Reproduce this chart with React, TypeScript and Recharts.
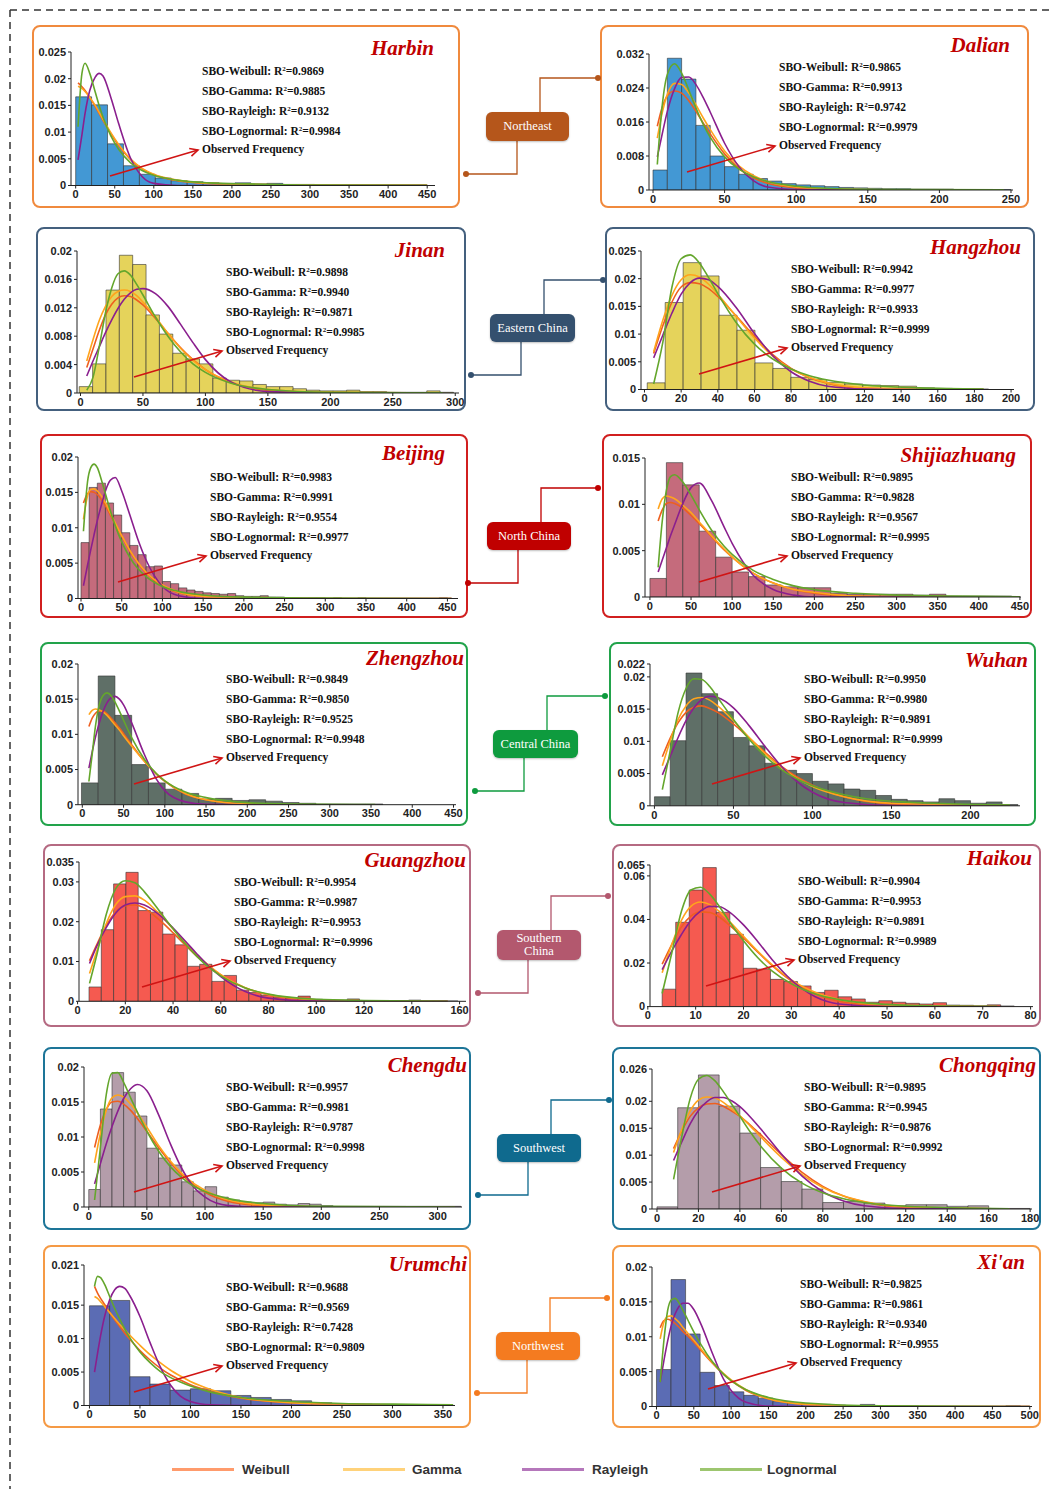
import { Bar, ComposedChart, Line, XAxis, YAxis } from "recharts";

// ---- histogram frequencies (bins of equal width) and fitted curves ----

const harbinFreq = [0.0166, 0.0151, 0.0078, 0.0037, 0.0021, 0.0014, 0.0009, 0.0007, 0.0005, 0.0004, 0.0005, 0.0003, 0.0004, 0.0002, 0.0002, 0.0001, 0.0001, 0.0001, 0.0001, 0.0001, 0.0001, 0.0001];
const harbinFitX = [3, 8, 12, 18, 25, 30, 35, 45, 55, 70, 85, 100, 130, 170, 220, 300, 450];
const harbinWeibull = [0.0192, 0.0185, 0.0178, 0.0165, 0.0148, 0.0135, 0.0122, 0.0097, 0.0075, 0.0049, 0.0031, 0.002, 0.0009, 0.0004, 0.0002, 0.0001, 0.00002];
const harbinGamma = [0.0186, 0.0182, 0.0176, 0.0165, 0.015, 0.0137, 0.0124, 0.0099, 0.0077, 0.005, 0.0032, 0.0021, 0.001, 0.0004, 0.0002, 0.0001, 0.00002];
const harbinRayleigh = [0.0048, 0.0095, 0.0135, 0.0178, 0.0203, 0.021, 0.0205, 0.0165, 0.0116, 0.0052, 0.0017, 0.0004, 0, 0, 0, 0, 0];
const harbinLognormal = [0.011, 0.021, 0.0229, 0.021, 0.0175, 0.015, 0.0128, 0.0093, 0.0068, 0.0043, 0.0028, 0.0019, 0.001, 0.0005, 0.0003, 0.0001, 0.00004];
const harbinR2 = ["0.9869", "0.9885", "0.9132", "0.9984"];

const dalianFreq = [0.0047, 0.031, 0.0261, 0.0152, 0.008, 0.0055, 0.0037, 0.0027, 0.0021, 0.0015, 0.0012, 0.001, 0.0008, 0.0006, 0.0005, 0.0004, 0.0003, 0.0003, 0.0002, 0.0002, 0.0002, 0.0001, 0.0001, 0.0001, 0.0001];
const dalianFitX = [3, 6, 10, 15, 20, 25, 30, 35, 40, 50, 60, 70, 80, 100, 130, 170, 245];
const dalianWeibull = [0.015, 0.019, 0.0222, 0.0233, 0.0228, 0.021, 0.0185, 0.0158, 0.0132, 0.0085, 0.0051, 0.0029, 0.0016, 0.0005, 0.0001, 0.00002, 0];
const dalianGamma = [0.0122, 0.0175, 0.0225, 0.0251, 0.0248, 0.0228, 0.02, 0.017, 0.0142, 0.0092, 0.0057, 0.0034, 0.002, 0.0007, 0.0002, 0.00004, 0];
const dalianRayleigh = [0.0078, 0.0125, 0.0185, 0.0238, 0.0265, 0.0266, 0.0248, 0.0218, 0.0183, 0.011, 0.0055, 0.0022, 0.0007, 0.0001, 0, 0, 0];
const dalianLognormal = [0.006, 0.0185, 0.0272, 0.0297, 0.0275, 0.0235, 0.0193, 0.0155, 0.0124, 0.0078, 0.0049, 0.0031, 0.002, 0.0009, 0.0003, 0.0001, 0.00002];
const dalianR2 = ["0.9865", "0.9913", "0.9742", "0.9979"];

const jinanFreq = [0.0009, 0.0041, 0.0145, 0.0194, 0.0181, 0.011, 0.0083, 0.0056, 0.0048, 0.0041, 0.0021, 0.0018, 0.0017, 0.0012, 0.0009, 0.0009, 0.0006, 0.0004, 0.0003, 0.0003, 0.0004, 0.0002, 0.0002, 0.0001, 0.0001, 0.0001, 0.0003, 0.0001];
const jinanFitX = [5, 10, 15, 20, 25, 30, 35, 40, 45, 50, 60, 70, 80, 90, 100, 120, 150, 200, 290];
const jinanWeibull = [0.0036, 0.0062, 0.0088, 0.011, 0.0125, 0.0134, 0.0137, 0.0136, 0.0131, 0.0124, 0.0105, 0.0084, 0.0064, 0.0047, 0.0033, 0.0015, 0.0004, 0.00005, 0];
const jinanGamma = [0.0045, 0.0075, 0.0102, 0.0122, 0.0136, 0.0143, 0.0145, 0.0143, 0.0137, 0.0128, 0.0107, 0.0084, 0.0063, 0.0046, 0.0033, 0.0016, 0.0005, 0.0001, 0];
const jinanRayleigh = [0.0024, 0.0045, 0.0065, 0.0085, 0.0103, 0.0119, 0.0132, 0.0141, 0.0146, 0.0147, 0.014, 0.0122, 0.0097, 0.0071, 0.0047, 0.0016, 0.0002, 0, 0];
const jinanLognormal = [0.0004, 0.0022, 0.0065, 0.0113, 0.0148, 0.0168, 0.0172, 0.0166, 0.0153, 0.0138, 0.0107, 0.008, 0.0058, 0.0041, 0.0029, 0.0014, 0.0005, 0.0001, 0.00002];
const jinanR2 = ["0.9898", "0.9940", "0.9871", "0.9985"];

const hangzhouFreq = [0.0012, 0.0157, 0.0229, 0.0205, 0.0134, 0.0107, 0.0048, 0.0038, 0.0022, 0.0018, 0.0013, 0.001, 0.0008, 0.0007, 0.0006, 0.0003, 0.0002, 0.0001, 0.0001];
const hangzhouFitX = [5, 10, 15, 20, 25, 30, 35, 40, 50, 60, 70, 80, 90, 100, 120, 150, 185];
const hangzhouWeibull = [0.0065, 0.0115, 0.0158, 0.0185, 0.0193, 0.0191, 0.0182, 0.0168, 0.0133, 0.0096, 0.0063, 0.0038, 0.0021, 0.0011, 0.0002, 0, 0];
const hangzhouGamma = [0.0068, 0.0125, 0.017, 0.0198, 0.0207, 0.0203, 0.019, 0.0172, 0.0132, 0.0093, 0.006, 0.0037, 0.0022, 0.0012, 0.0003, 0.00005, 0];
const hangzhouRayleigh = [0.0057, 0.0098, 0.0138, 0.0172, 0.0193, 0.0201, 0.0198, 0.0186, 0.0148, 0.0101, 0.0061, 0.0032, 0.0015, 0.0006, 0.0001, 0, 0];
const hangzhouLognormal = [0.001, 0.0085, 0.0185, 0.0236, 0.0243, 0.0228, 0.0202, 0.0173, 0.0121, 0.0082, 0.0055, 0.0037, 0.0025, 0.0017, 0.0008, 0.0003, 0.0001];
const hangzhouR2 = ["0.9942", "0.9977", "0.9933", "0.9999"];

const beijingFreq = [0.0079, 0.0157, 0.0163, 0.0135, 0.0118, 0.0093, 0.0075, 0.0062, 0.0045, 0.0046, 0.0024, 0.0021, 0.0015, 0.0012, 0.001, 0.0008, 0.0007, 0.0006, 0.0007, 0.0004, 0.0003, 0.0003, 0.0004, 0.0002, 0.0002, 0.0001, 0.0001, 0.0001, 0.0001, 0.0001, 0, 0.0001, 0, 0, 0.0001, 0, 0, 0, 0, 0, 0, 0, 0, 0, 0.0001];
const beijingFitX = [3, 8, 12, 16, 20, 25, 30, 36, 42, 50, 60, 70, 80, 100, 120, 150, 200, 300, 455];
const beijingWeibull = [0.0135, 0.0148, 0.0151, 0.015, 0.0147, 0.014, 0.0131, 0.0118, 0.0105, 0.0088, 0.0067, 0.005, 0.0036, 0.0018, 0.0008, 0.0003, 0.00005, 0, 0];
const beijingGamma = [0.0112, 0.0145, 0.0154, 0.0155, 0.0152, 0.0145, 0.0135, 0.0121, 0.0107, 0.0089, 0.0068, 0.0051, 0.0037, 0.0019, 0.0009, 0.0003, 0.00005, 0, 0];
const beijingRayleigh = [0.0018, 0.0047, 0.0069, 0.009, 0.011, 0.0132, 0.0152, 0.0167, 0.0171, 0.0152, 0.0118, 0.0083, 0.0054, 0.0017, 0.0004, 0, 0, 0, 0];
const beijingLognormal = [0.0095, 0.0165, 0.0185, 0.019, 0.0185, 0.0168, 0.0148, 0.0124, 0.0103, 0.008, 0.0058, 0.0042, 0.0031, 0.0017, 0.001, 0.0005, 0.0002, 0.00005, 0.00001];
const beijingR2 = ["0.9983", "0.9991", "0.9554", "0.9977"];

const shijiazhuangFreq = [0.002, 0.0145, 0.0121, 0.0071, 0.0043, 0.0027, 0.0022, 0.0013, 0.0011, 0.001, 0.001, 0.0004, 0.0003, 0.0003, 0.0003, 0.0003, 0.0002, 0.0003, 0.0001, 0.0001, 0.0001, 0.0001];
const shijiazhuangFitX = [10, 15, 20, 25, 30, 40, 50, 60, 75, 90, 100, 125, 150, 175, 200, 250, 300, 450];
const shijiazhuangWeibull = [0.0082, 0.0094, 0.0101, 0.0102, 0.0101, 0.0096, 0.0088, 0.0079, 0.0065, 0.0051, 0.0043, 0.0026, 0.0015, 0.0008, 0.0004, 0.0001, 0.00003, 0];
const shijiazhuangGamma = [0.0095, 0.0106, 0.0109, 0.0108, 0.0106, 0.0099, 0.0091, 0.0081, 0.0066, 0.0052, 0.0043, 0.0026, 0.0015, 0.0008, 0.0005, 0.0001, 0.00004, 0];
const shijiazhuangRayleigh = [0.0027, 0.004, 0.0053, 0.0066, 0.0078, 0.0101, 0.0118, 0.0123, 0.0104, 0.0076, 0.0058, 0.0024, 0.0008, 0.0002, 0, 0, 0, 0];
const shijiazhuangLognormal = [0.0032, 0.0082, 0.0115, 0.013, 0.0132, 0.0124, 0.011, 0.0094, 0.0072, 0.0055, 0.0046, 0.0029, 0.0019, 0.0012, 0.0008, 0.0004, 0.0002, 0.00003];
const shijiazhuangR2 = ["0.9895", "0.9828", "0.9567", "0.9995"];

const zhengzhouFreq = [0.0031, 0.0183, 0.0127, 0.0057, 0.0031, 0.0022, 0.0016, 0.0008, 0.0009, 0.0006, 0.0007, 0.0005, 0.0003, 0.0002, 0.0001, 0.0001, 0.0001, 0.0001];
const zhengzhouFitX = [8, 12, 16, 20, 25, 30, 35, 40, 45, 50, 60, 75, 90, 100, 125, 150, 200, 250, 355];
const zhengzhouWeibull = [0.0111, 0.0123, 0.013, 0.0133, 0.0133, 0.0129, 0.0123, 0.0116, 0.0109, 0.0101, 0.0085, 0.0062, 0.0043, 0.0033, 0.0015, 0.0007, 0.0001, 0, 0];
const zhengzhouGamma = [0.0128, 0.0134, 0.0136, 0.0135, 0.0132, 0.0127, 0.012, 0.0113, 0.0106, 0.0098, 0.0083, 0.0062, 0.0044, 0.0034, 0.0016, 0.0007, 0.0001, 0, 0];
const zhengzhouRayleigh = [0.0052, 0.0075, 0.0096, 0.0114, 0.0132, 0.0145, 0.0152, 0.0154, 0.015, 0.0142, 0.0116, 0.0072, 0.0036, 0.002, 0.0004, 0.00005, 0, 0, 0];
const zhengzhouLognormal = [0.0033, 0.0072, 0.0112, 0.0139, 0.0155, 0.0159, 0.0155, 0.0145, 0.0133, 0.012, 0.0095, 0.0065, 0.0044, 0.0034, 0.0018, 0.001, 0.0003, 0.0001, 0.00002];
const zhengzhouR2 = ["0.9849", "0.9850", "0.9525", "0.9948"];

const wuhanFreq = [0.0014, 0.0101, 0.0206, 0.0174, 0.0146, 0.0106, 0.0093, 0.0066, 0.0055, 0.005, 0.0038, 0.0034, 0.0026, 0.0024, 0.0016, 0.001, 0.0008, 0.0006, 0.0011, 0.0008, 0.0004, 0.0006, 0.0002];
const wuhanFitX = [5, 10, 15, 20, 25, 30, 35, 40, 50, 60, 70, 80, 90, 100, 120, 150, 225];
const wuhanWeibull = [0.0076, 0.0105, 0.0129, 0.0145, 0.0153, 0.0155, 0.0151, 0.0145, 0.0127, 0.0105, 0.0083, 0.0062, 0.0045, 0.0032, 0.0014, 0.0003, 0];
const wuhanGamma = [0.0062, 0.0101, 0.0134, 0.0155, 0.0166, 0.0168, 0.0164, 0.0155, 0.0132, 0.0106, 0.0081, 0.006, 0.0043, 0.003, 0.0014, 0.0004, 0];
const wuhanRayleigh = [0.0048, 0.0077, 0.0106, 0.0132, 0.0152, 0.0165, 0.017, 0.0168, 0.0152, 0.0124, 0.0092, 0.0062, 0.0038, 0.0021, 0.0005, 0.00003, 0];
const wuhanLognormal = [0.0025, 0.0085, 0.0145, 0.0182, 0.0197, 0.0196, 0.0185, 0.0168, 0.0134, 0.0103, 0.0077, 0.0057, 0.0042, 0.0031, 0.0017, 0.0007, 0.0001];
const wuhanR2 = ["0.9950", "0.9980", "0.9891", "0.9999"];

const guangzhouFreq = [0.0036, 0.018, 0.0295, 0.0324, 0.0228, 0.0224, 0.0169, 0.0142, 0.0088, 0.0093, 0.005, 0.0065, 0.0028, 0.0022, 0.0015, 0.001, 0.0008, 0.0013, 0.0005, 0.0004, 0.0003, 0.0006, 0.0002, 0.0002, 0.0001, 0.0001, 0.0003, 0.0001, 0.0001, 0.0001];
const guangzhouFitX = [5, 8, 12, 16, 20, 24, 28, 32, 36, 40, 45, 50, 55, 60, 70, 80, 100, 120, 155];
const guangzhouWeibull = [0.0102, 0.0142, 0.019, 0.0225, 0.024, 0.0242, 0.0234, 0.0216, 0.0195, 0.0172, 0.0142, 0.0113, 0.0088, 0.0066, 0.0034, 0.0016, 0.0003, 0, 0];
const guangzhouGamma = [0.007, 0.0125, 0.0195, 0.0243, 0.0263, 0.0265, 0.0254, 0.0233, 0.0208, 0.0182, 0.0148, 0.0117, 0.009, 0.0067, 0.0035, 0.0017, 0.0004, 0.0001, 0];
const guangzhouRayleigh = [0.0095, 0.0138, 0.0185, 0.0222, 0.0242, 0.0247, 0.0242, 0.0228, 0.0208, 0.0184, 0.0152, 0.0119, 0.0088, 0.0062, 0.0025, 0.0008, 0.00004, 0, 0];
const guangzhouLognormal = [0.0045, 0.0115, 0.0218, 0.0283, 0.0303, 0.0298, 0.0275, 0.0245, 0.0213, 0.0182, 0.0145, 0.0113, 0.0085, 0.0064, 0.0034, 0.0018, 0.0005, 0.0002, 0.00003];
const guangzhouR2 = ["0.9954", "0.9987", "0.9953", "0.9996"];

const haikouFreq = [0.008, 0.0387, 0.0535, 0.0638, 0.0433, 0.0332, 0.0176, 0.0172, 0.0125, 0.0115, 0.0095, 0.0065, 0.0075, 0.0045, 0.0035, 0.002, 0.0027, 0.002, 0.0015, 0.0012, 0.0018, 0.0007, 0.0006, 0.0003, 0.0008, 0.0003];
const haikouFitX = [3, 5, 7, 9, 11, 13, 15, 17, 20, 23, 26, 30, 35, 40, 50, 60, 73];
const haikouWeibull = [0.0195, 0.0285, 0.0365, 0.0415, 0.0435, 0.0432, 0.041, 0.0375, 0.0315, 0.025, 0.0188, 0.0118, 0.0058, 0.0025, 0.0003, 0, 0];
const haikouGamma = [0.0155, 0.0285, 0.0395, 0.046, 0.048, 0.0468, 0.0436, 0.0393, 0.0323, 0.0254, 0.0192, 0.0123, 0.0066, 0.0033, 0.0008, 0.0002, 0];
const haikouRayleigh = [0.017, 0.0255, 0.033, 0.0395, 0.0438, 0.046, 0.0458, 0.0435, 0.0375, 0.0298, 0.0215, 0.0122, 0.0045, 0.0012, 0, 0, 0];
const haikouLognormal = [0.006, 0.0245, 0.0435, 0.0535, 0.0548, 0.0515, 0.0458, 0.0392, 0.0302, 0.0224, 0.0163, 0.0105, 0.0058, 0.0032, 0.001, 0.0003, 0.0001];
const haikouR2 = ["0.9904", "0.9953", "0.9891", "0.9989"];

const chengduFreq = [0.0025, 0.014, 0.0192, 0.0164, 0.013, 0.0084, 0.007, 0.006, 0.0036, 0.0023, 0.0029, 0.0014, 0.001, 0.0007, 0.0006, 0.0007, 0.0004, 0.0003, 0.0005, 0.0004, 0.0002, 0.0001, 0.0001, 0.0001, 0.0001, 0.0001, 0.0001, 0.0001, 0.0001, 0.0001, 0.0001, 0.0001];
const chengduFitX = [5, 10, 15, 20, 25, 30, 36, 42, 50, 60, 70, 80, 90, 100, 120, 150, 200, 315];
const chengduWeibull = [0.0085, 0.0117, 0.0139, 0.015, 0.0151, 0.0147, 0.0138, 0.0126, 0.0108, 0.0085, 0.0064, 0.0046, 0.0032, 0.0021, 0.0008, 0.0002, 0, 0];
const chengduGamma = [0.0063, 0.0105, 0.0138, 0.0156, 0.016, 0.0157, 0.0147, 0.0134, 0.0114, 0.0088, 0.0066, 0.0048, 0.0034, 0.0024, 0.001, 0.0003, 0, 0];
const chengduRayleigh = [0.0033, 0.0062, 0.009, 0.0115, 0.0137, 0.0155, 0.0169, 0.0175, 0.0166, 0.0132, 0.0091, 0.0055, 0.0029, 0.0014, 0.0002, 0, 0, 0];
const chengduLognormal = [0.001, 0.0085, 0.016, 0.0191, 0.0192, 0.0178, 0.0156, 0.0135, 0.0108, 0.008, 0.0058, 0.0042, 0.003, 0.0022, 0.0012, 0.0005, 0.0001, 0];
const chengduR2 = ["0.9957", "0.9981", "0.9787", "0.9998"];

const chongqingFreq = [0.0004, 0.0188, 0.0249, 0.0191, 0.0141, 0.0077, 0.0051, 0.0037, 0.0012, 0.0014, 0.0011, 0.0006, 0.0008, 0.0008, 0.0005, 0.0006, 0.0001, 0.0001];
const chongqingFitX = [8, 12, 16, 20, 24, 28, 32, 36, 40, 45, 50, 60, 70, 80, 90, 100, 120, 170];
const chongqingWeibull = [0.0112, 0.0145, 0.0172, 0.0188, 0.0195, 0.0196, 0.0191, 0.0182, 0.0172, 0.0156, 0.0138, 0.0101, 0.0068, 0.0042, 0.0024, 0.0013, 0.0003, 0];
const chongqingGamma = [0.0105, 0.0148, 0.0182, 0.0202, 0.0208, 0.0206, 0.0198, 0.0186, 0.0173, 0.0154, 0.0134, 0.0096, 0.0064, 0.004, 0.0024, 0.0014, 0.0004, 0];
const chongqingRayleigh = [0.009, 0.0125, 0.0158, 0.0183, 0.0199, 0.0207, 0.0207, 0.0201, 0.019, 0.0171, 0.0149, 0.0102, 0.0061, 0.0032, 0.0015, 0.0006, 0.0001, 0];
const chongqingLognormal = [0.0055, 0.0135, 0.0205, 0.0241, 0.0248, 0.0238, 0.0218, 0.0195, 0.0172, 0.0143, 0.0117, 0.0076, 0.0048, 0.003, 0.0019, 0.0012, 0.0005, 0.00005];
const chongqingR2 = ["0.9895", "0.9945", "0.9876", "0.9992"];

const urumchiFreq = [0.0149, 0.0157, 0.0043, 0.0032, 0.0023, 0.0025, 0.0022, 0.0015, 0.0012, 0.0009, 0.0007, 0.0004, 0.0002, 0.0002, 0.0001, 0.0001, 0.0001, 0.0001];
const urumchiFitX = [5, 8, 11, 15, 20, 25, 30, 35, 40, 50, 60, 70, 80, 90, 100, 120, 150, 200, 250, 300, 360];
const urumchiWeibull = [0.0178, 0.0168, 0.016, 0.0151, 0.0139, 0.0128, 0.0118, 0.0108, 0.0099, 0.0082, 0.0068, 0.0056, 0.0046, 0.0038, 0.0031, 0.0021, 0.0011, 0.0004, 0.0002, 0.0001, 0];
const urumchiGamma = [0.0163, 0.016, 0.0155, 0.0148, 0.0139, 0.013, 0.0121, 0.0113, 0.0105, 0.009, 0.0076, 0.0064, 0.0053, 0.0044, 0.0036, 0.0024, 0.0012, 0.0004, 0.0001, 0, 0];
const urumchiRayleigh = [0.005, 0.0078, 0.0104, 0.0133, 0.0158, 0.0173, 0.0178, 0.0175, 0.0164, 0.0133, 0.0094, 0.0058, 0.0031, 0.0014, 0.0006, 0.0001, 0, 0, 0, 0, 0];
const urumchiLognormal = [0.0178, 0.0193, 0.0191, 0.0181, 0.0163, 0.0145, 0.0129, 0.0114, 0.0101, 0.008, 0.0064, 0.0051, 0.0042, 0.0035, 0.0029, 0.002, 0.0012, 0.0006, 0.0003, 0.0002, 0.0001];
const urumchiR2 = ["0.9688", "0.9569", "0.7428", "0.9809"];

const xianFreq = [0.0053, 0.0182, 0.0104, 0.0049, 0.003, 0.0021, 0.0016, 0.0012, 0.0007, 0.0005, 0.0004, 0.0003, 0.0002, 0.0001, 0.0003, 0.0001, 0.0001, 0.0001, 0, 0, 0, 0, 0, 0, 0.0001];
const xianFitX = [5, 10, 15, 20, 25, 30, 35, 42, 50, 60, 75, 90, 100, 120, 150, 200, 300, 500];
const xianWeibull = [0.0113, 0.0123, 0.0125, 0.0123, 0.0119, 0.0114, 0.0108, 0.0101, 0.0092, 0.008, 0.0062, 0.0046, 0.0037, 0.0023, 0.0011, 0.0003, 0, 0];
const xianGamma = [0.0097, 0.0121, 0.0129, 0.013, 0.0126, 0.0121, 0.0114, 0.0105, 0.0095, 0.0082, 0.0063, 0.0047, 0.0038, 0.0024, 0.0011, 0.0003, 0, 0];
const xianRayleigh = [0.0035, 0.0066, 0.0094, 0.0117, 0.0133, 0.0143, 0.0148, 0.0148, 0.0139, 0.0117, 0.0076, 0.0039, 0.0023, 0.0006, 0.00005, 0, 0, 0];
const xianLognormal = [0.0035, 0.0095, 0.0138, 0.0153, 0.0155, 0.0149, 0.0139, 0.0124, 0.0107, 0.0088, 0.0064, 0.0046, 0.0037, 0.0024, 0.0013, 0.0005, 0.0001, 0];
const xianR2 = ["0.9825", "0.9861", "0.9340", "0.9955"];

const fitNames = ["Weibull", "Gamma", "Rayleigh", "Lognormal"];
const fitColors = ["#EE5F1F", "#FFA41C", "#8A1F8E", "#64A62C"];
const legendColors = ["#FF9B6C", "#FFD27A", "#B577BB", "#9DC66F"];

const SERIF = "'Liberation Serif', 'Times New Roman', serif";
const NARROW = "'Liberation Sans Narrow', 'Arial Narrow', 'Liberation Sans', sans-serif";

interface PanelSpec {
  city: string;
  box: [number, number, number, number];
  border: string;
  barFill: string;
  plot: [number, number, number, number];
  xDomain: [number, number];
  xTicks: number[];
  yTicks: number[];
  binStart: number;
  binWidth: number;
  freq: number[];
  fitX: number[];
  fits: number[][];
  r2: string[];
  text: [number, number];
  title: [number, number];
}

const ROW = [
  { border: "#F08A3E", fill: "#4398D4" },
  { border: "#44607E", fill: "#E5D35B" },
  { border: "#D11F1F", fill: "#C56B7C" },
  { border: "#22A34B", fill: "#5F6F67" },
  { border: "#B56A82", fill: "#F55A50" },
  { border: "#1D7598", fill: "#B49DAA" },
  { border: "#F59A45", fill: "#5B6CB4" },
];

const panels: PanelSpec[] = [
  {
    city: "Harbin", box: [32, 25, 428, 183], border: ROW[0].border, barFill: ROW[0].fill,
    plot: [71, 435, 52, 185.5], xDomain: [-6, 460],
    xTicks: [0, 50, 100, 150, 200, 250, 300, 350, 400, 450], yTicks: [0, 0.005, 0.01, 0.015, 0.02, 0.025],
    binStart: 0, binWidth: 20.4, freq: harbinFreq, fitX: harbinFitX,
    fits: [harbinWeibull, harbinGamma, harbinRayleigh, harbinLognormal], r2: harbinR2,
    text: [202, 69], title: [434, 48],
  },
  {
    city: "Dalian", box: [600, 25, 429, 183], border: ROW[0].border, barFill: ROW[0].fill,
    plot: [649, 1013, 54, 190], xDomain: [-2.8, 251.4],
    xTicks: [0, 50, 100, 150, 200, 250], yTicks: [0, 0.008, 0.016, 0.024, 0.032],
    binStart: 0, binWidth: 10, freq: dalianFreq, fitX: dalianFitX,
    fits: [dalianWeibull, dalianGamma, dalianRayleigh, dalianLognormal], r2: dalianR2,
    text: [779, 65], title: [1010, 45],
  },
  {
    city: "Jinan", box: [36, 227, 430, 184], border: ROW[1].border, barFill: ROW[1].fill,
    plot: [77, 459, 250.5, 392.5], xDomain: [-2.8, 303],
    xTicks: [0, 50, 100, 150, 200, 250, 300], yTicks: [0, 0.004, 0.008, 0.012, 0.016, 0.02],
    binStart: -1, binWidth: 10.7, freq: jinanFreq, fitX: jinanFitX,
    fits: [jinanWeibull, jinanGamma, jinanRayleigh, jinanLognormal], r2: jinanR2,
    text: [226, 270], title: [445, 250],
  },
  {
    city: "Hangzhou", box: [605, 227, 430, 184], border: ROW[1].border, barFill: ROW[1].fill,
    plot: [641, 1014, 250.5, 389], xDomain: [-1.9, 201.6],
    xTicks: [0, 20, 40, 60, 80, 100, 120, 140, 160, 180, 200], yTicks: [0, 0.005, 0.01, 0.015, 0.02, 0.025],
    binStart: 1.5, binWidth: 9.8, freq: hangzhouFreq, fitX: hangzhouFitX,
    fits: [hangzhouWeibull, hangzhouGamma, hangzhouRayleigh, hangzhouLognormal], r2: hangzhouR2,
    text: [791, 267], title: [1021, 247],
  },
  {
    city: "Beijing", box: [40, 434, 428, 184], border: ROW[2].border, barFill: ROW[2].fill,
    plot: [78, 458, 456.5, 598], xDomain: [-3.7, 463],
    xTicks: [0, 50, 100, 150, 200, 250, 300, 350, 400, 450], yTicks: [0, 0.005, 0.01, 0.015, 0.02],
    binStart: 0, binWidth: 10, freq: beijingFreq, fitX: beijingFitX,
    fits: [beijingWeibull, beijingGamma, beijingRayleigh, beijingLognormal], r2: beijingR2,
    text: [210, 475], title: [445, 453],
  },
  {
    city: "Shijiazhuang", box: [602, 434, 430, 184], border: ROW[2].border, barFill: ROW[2].fill,
    plot: [645, 1021, 458, 597], xDomain: [-6, 451.3],
    xTicks: [0, 50, 100, 150, 200, 250, 300, 350, 400, 450], yTicks: [0, 0.005, 0.01, 0.015],
    binStart: 0, binWidth: 20, freq: shijiazhuangFreq, fitX: shijiazhuangFitX,
    fits: [shijiazhuangWeibull, shijiazhuangGamma, shijiazhuangRayleigh, shijiazhuangLognormal], r2: shijiazhuangR2,
    text: [791, 475], title: [1016, 455],
  },
  {
    city: "Zhengzhou", box: [40, 642, 428, 184], border: ROW[3].border, barFill: ROW[3].fill,
    plot: [78, 456, 664.3, 805], xDomain: [-5.2, 453],
    xTicks: [0, 50, 100, 150, 200, 250, 300, 350, 400, 450], yTicks: [0, 0.005, 0.01, 0.015, 0.02],
    binStart: -1, binWidth: 20.3, freq: zhengzhouFreq, fitX: zhengzhouFitX,
    fits: [zhengzhouWeibull, zhengzhouGamma, zhengzhouRayleigh, zhengzhouLognormal], r2: zhengzhouR2,
    text: [226, 677], title: [464, 658],
  },
  {
    city: "Wuhan", box: [609, 642, 427, 184], border: ROW[3].border, barFill: ROW[3].fill,
    plot: [650, 1020, 663.7, 805.5], xDomain: [-2.8, 231.3],
    xTicks: [0, 50, 100, 150, 200], yTicks: [0, 0.005, 0.01, 0.015, 0.02, 0.022],
    binStart: 0, binWidth: 10, freq: wuhanFreq, fitX: wuhanFitX,
    fits: [wuhanWeibull, wuhanGamma, wuhanRayleigh, wuhanLognormal], r2: wuhanR2,
    text: [804, 677], title: [1028, 660],
  },
  {
    city: "Guangzhou", box: [43, 844, 428, 183], border: ROW[4].border, barFill: ROW[4].fill,
    plot: [79, 466, 862, 1001.3], xDomain: [0.6, 162.7],
    xTicks: [0, 20, 40, 60, 80, 100, 120, 140, 160], yTicks: [0, 0.01, 0.02, 0.03, 0.035],
    binStart: 4.8, binWidth: 5.15, freq: guangzhouFreq, fitX: guangzhouFitX,
    fits: [guangzhouWeibull, guangzhouGamma, guangzhouRayleigh, guangzhouLognormal], r2: guangzhouR2,
    text: [234, 880], title: [466, 860],
  },
  {
    city: "Haikou", box: [612, 844, 429, 183], border: ROW[4].border, barFill: ROW[4].fill,
    plot: [650, 1033, 864.7, 1006.3], xDomain: [0.46, 80.5],
    xTicks: [0, 10, 20, 30, 40, 50, 60, 70, 80], yTicks: [0, 0.02, 0.04, 0.06, 0.065],
    binStart: 3, binWidth: 2.83, freq: haikouFreq, fitX: haikouFitX,
    fits: [haikouWeibull, haikouGamma, haikouRayleigh, haikouLognormal], r2: haikouR2,
    text: [798, 879], title: [1032, 858],
  },
  {
    city: "Chengdu", box: [43, 1047, 428, 183], border: ROW[5].border, barFill: ROW[5].fill,
    plot: [84, 462, 1067, 1207], xDomain: [-4.1, 321],
    xTicks: [0, 50, 100, 150, 200, 250, 300], yTicks: [0, 0.005, 0.01, 0.015, 0.02],
    binStart: 0, binWidth: 10, freq: chengduFreq, fitX: chengduFitX,
    fits: [chengduWeibull, chengduGamma, chengduRayleigh, chengduLognormal], r2: chengduR2,
    text: [226, 1085], title: [467, 1065],
  },
  {
    city: "Chongqing", box: [612, 1047, 429, 183], border: ROW[5].border, barFill: ROW[5].fill,
    plot: [652, 1032, 1068.7, 1208.7], xDomain: [-2.4, 180.9],
    xTicks: [0, 20, 40, 60, 80, 100, 120, 140, 160, 180], yTicks: [0, 0.005, 0.01, 0.015, 0.02, 0.026],
    binStart: 0, binWidth: 10, freq: chongqingFreq, fitX: chongqingFitX,
    fits: [chongqingWeibull, chongqingGamma, chongqingRayleigh, chongqingLognormal], r2: chongqingR2,
    text: [804, 1085], title: [1036, 1065],
  },
  {
    city: "Urumchi", box: [43, 1245, 428, 183], border: ROW[6].border, barFill: ROW[6].fill,
    plot: [84, 455, 1265, 1405.5], xDomain: [-5.4, 361.9],
    xTicks: [0, 50, 100, 150, 200, 250, 300, 350], yTicks: [0, 0.005, 0.01, 0.015, 0.021],
    binStart: 0, binWidth: 20, freq: urumchiFreq, fitX: urumchiFitX,
    fits: [urumchiWeibull, urumchiGamma, urumchiRayleigh, urumchiLognormal], r2: urumchiR2,
    text: [226, 1285], title: [467, 1264],
  },
  {
    city: "Xi'an", box: [612, 1245, 429, 183], border: ROW[6].border, barFill: ROW[6].fill,
    plot: [652, 1032, 1266.5, 1406], xDomain: [-6, 503],
    xTicks: [0, 50, 100, 150, 200, 250, 300, 350, 400, 450, 500], yTicks: [0, 0.005, 0.01, 0.015, 0.02],
    binStart: 0, binWidth: 19.5, freq: xianFreq, fitX: xianFitX,
    fits: [xianWeibull, xianGamma, xianRayleigh, xianLognormal], r2: xianR2,
    text: [800, 1282], title: [1025, 1262],
  },
];

// region tags between the two columns: box [left, top, width, height], dot x on each side
const regions = [
  { lines: ["Northeast"], box: [486, 112, 83, 29], color: "#B5561B", dotL: 466, dotR: 598 },
  { lines: ["Eastern China"], box: [490, 314, 85, 28], color: "#34506E", dotL: 471, dotR: 603 },
  { lines: ["North China"], box: [487, 522, 84, 28], color: "#C00000", dotL: 468, dotR: 598 },
  { lines: ["Central China"], box: [493, 730, 85, 28], color: "#0E9B3E", dotL: 475, dotR: 605 },
  { lines: ["Southern", "China"], box: [497, 930, 84, 30], color: "#B3586E", dotL: 478, dotR: 608 },
  { lines: ["Southwest"], box: [497, 1134, 84, 28], color: "#0F6A8E", dotL: 478, dotR: 609 },
  { lines: ["Northwest"], box: [496, 1332, 84, 28], color: "#F47B20", dotL: 477, dotR: 607 },
];

const legendItems = [
  { x: 172, textX: 242 },
  { x: 343, textX: 412 },
  { x: 522, textX: 592 },
  { x: 700, textX: 767 },
];

const Y_W = 40;
const M_T = 8;
const M_R = 16;
const X_H = 20;

function HistChart({ p }: { p: PanelSpec }) {
  const [pl, pr, pt, pb] = p.plot;
  const plotW = pr - pl;
  const plotH = pb - pt;
  const yMax = p.yTicks[p.yTicks.length - 1];
  const bins = p.freq.map((f, i) => ({ x: p.binStart + (i + 0.5) * p.binWidth, freq: f }));
  const barSize = ((p.binWidth * plotW) / (p.xDomain[1] - p.xDomain[0])) * 0.998;
  const tickStyle = { fontSize: 11, fill: "#222", fontFamily: NARROW, fontWeight: 700 };

  return (
    <div style={{ position: "absolute", left: pl - Y_W, top: pt - M_T }}>
      <ComposedChart
        width={plotW + Y_W + M_R}
        height={plotH + M_T + X_H}
        data={bins}
        margin={{ top: M_T, right: M_R, bottom: 0, left: 0 }}
        barCategoryGap={0}
        barGap={0}
      >
        <XAxis
          xAxisId="bins"
          dataKey="x"
          type="number"
          domain={p.xDomain}
          ticks={p.xTicks}
          interval={0}
          allowDataOverflow
          height={X_H}
          tick={tickStyle}
          tickSize={3}
          axisLine={{ stroke: "#222" }}
          tickLine={{ stroke: "#222" }}
        />
        <XAxis xAxisId="fit" dataKey="x" type="number" domain={p.xDomain} allowDataOverflow hide />
        <YAxis
          type="number"
          domain={[0, yMax]}
          ticks={p.yTicks}
          interval={0}
          allowDataOverflow
          width={Y_W}
          tick={tickStyle}
          tickSize={3}
          axisLine={{ stroke: "#222" }}
          tickLine={{ stroke: "#222" }}
        />
        <Bar
          xAxisId="bins"
          dataKey="freq"
          fill={p.barFill}
          stroke="#333"
          strokeWidth={0.6}
          barSize={barSize}
          isAnimationActive={false}
        />
        {p.fits.map((ys, k) => (
          <Line
            key={fitNames[k]}
            xAxisId="fit"
            data={p.fitX.map((x, i) => ({ x, y: ys[i] }))}
            dataKey="y"
            type="monotone"
            stroke={fitColors[k]}
            strokeWidth={1.6}
            dot={false}
            isAnimationActive={false}
          />
        ))}
      </ComposedChart>
    </div>
  );
}

function PanelFrame({ p }: { p: PanelSpec }) {
  const [left, top, w, h] = p.box;
  return (
    <>
      <div
        style={{
          position: "absolute",
          left,
          top,
          width: w,
          height: h,
          border: `2px solid ${p.border}`,
          borderRadius: 8,
          boxSizing: "border-box",
          background: "#fff",
        }}
      />
      <div
        style={{
          position: "absolute",
          left: p.title[0] - 200,
          width: 200,
          top: p.title[1] - 13,
          textAlign: "right",
          fontFamily: SERIF,
          fontStyle: "italic",
          fontWeight: 700,
          fontSize: 21,
          lineHeight: "26px",
          color: "#C00000",
        }}
      >
        {p.city}
      </div>
    </>
  );
}

function Notes({ p }: { p: PanelSpec }) {
  const [tx, ty] = p.text;
  const rows = fitNames.map((n, i) => (
    <span key={n}>
      SBO-{n}: R<sup style={{ fontSize: 7, verticalAlign: "4px" }}>2</sup>={p.r2[i]}
    </span>
  ));
  rows.push(<span key="obs">Observed Frequency</span>);
  return (
    <>
      {rows.map((r, i) => (
        <div
          key={i}
          style={{
            position: "absolute",
            left: tx,
            top: ty + i * 20 - 8,
            fontFamily: SERIF,
            fontWeight: 700,
            fontSize: 11.5,
            lineHeight: "16px",
            color: "#111",
            whiteSpace: "nowrap",
          }}
        >
          {r}
        </div>
      ))}
    </>
  );
}

export default function App() {
  return (
    <div
      style={{
        position: "absolute",
        left: 0,
        top: 0,
        width: 1049,
        height: 1489,
        background: "#fff",
        overflow: "hidden",
      }}
    >
      <svg width={1049} height={1489} style={{ position: "absolute", left: 0, top: 0 }}>
        <line x1={10} y1={10} x2={10} y2={1489} stroke="#333" strokeWidth={1.5} strokeDasharray="7 5" />
        <line x1={10} y1={10} x2={1049} y2={10} stroke="#333" strokeWidth={1.5} strokeDasharray="7 5" />
      </svg>

      {panels.map((p) => (
        <PanelFrame key={p.city} p={p} />
      ))}
      {panels.map((p) => (
        <HistChart key={p.city} p={p} />
      ))}
      {panels.map((p) => (
        <Notes key={p.city} p={p} />
      ))}

      <svg width={1049} height={1489} style={{ position: "absolute", left: 0, top: 0, pointerEvents: "none" }}>
        <defs>
          <marker id="redHead" markerUnits="userSpaceOnUse" markerWidth={12} markerHeight={12} refX={9} refY={5} orient="auto">
            <path d="M1,1 L9,5 L1,9" fill="none" stroke="#D01414" strokeWidth={1.6} />
          </marker>
        </defs>
        {panels.map((p) => (
          <line
            key={p.city}
            x1={p.text[0] - 92}
            y1={p.text[1] + 107}
            x2={p.text[0] - 4}
            y2={p.text[1] + 81}
            stroke="#D01414"
            strokeWidth={1.6}
            markerEnd="url(#redHead)"
          />
        ))}
        {regions.map((r) => {
          const [bx, by, bw, bh] = r.box;
          const xB = bx + 31;
          const xT = bx + 54;
          const yL = by + bh + 33;
          const yR = by - 34;
          return (
            <g key={r.lines.join(" ")} stroke={r.color} strokeWidth={1.3} fill="none">
              <polyline points={`${r.dotL},${yL} ${xB},${yL} ${xB},${by + bh}`} />
              <polyline points={`${xT},${by} ${xT},${yR} ${r.dotR},${yR}`} />
              <circle cx={r.dotL} cy={yL} r={3} fill={r.color} stroke="none" />
              <circle cx={r.dotR} cy={yR} r={3} fill={r.color} stroke="none" />
            </g>
          );
        })}
      </svg>

      {regions.map((r) => {
        const [bx, by, bw, bh] = r.box;
        return (
          <div
            key={r.lines.join(" ")}
            style={{
              position: "absolute",
              left: bx,
              top: by,
              width: bw,
              height: bh,
              background: r.color,
              borderRadius: 6,
              color: "#fff",
              fontFamily: SERIF,
              fontSize: 12.5,
              lineHeight: r.lines.length > 1 ? "13px" : `${bh}px`,
              textAlign: "center",
              display: "flex",
              flexDirection: "column",
              justifyContent: "center",
              boxShadow: "0 1px 2px rgba(0,0,0,0.25)",
            }}
          >
            {r.lines.map((l) => (
              <div key={l}>{l}</div>
            ))}
          </div>
        );
      })}

      {legendItems.map((it, i) => (
        <div key={fitNames[i]}>
          <div
            style={{
              position: "absolute",
              left: it.x,
              top: 1468,
              width: 62,
              height: 3,
              background: legendColors[i],
            }}
          />
          <div
            style={{
              position: "absolute",
              left: it.textX,
              top: 1461,
              fontFamily: NARROW,
              fontSize: 13.5,
              fontWeight: 700,
              color: "#333",
              lineHeight: "18px",
            }}
          >
            {fitNames[i]}
          </div>
        </div>
      ))}
    </div>
  );
}
